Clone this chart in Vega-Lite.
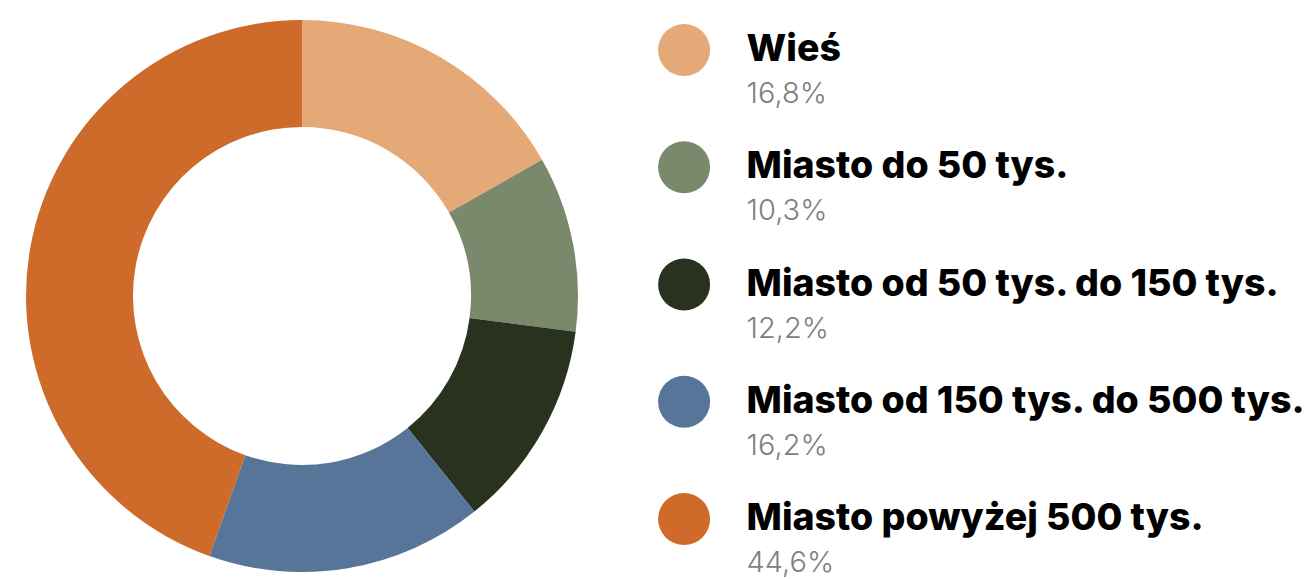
{
  "$schema": "https://vega.github.io/schema/vega-lite/v6.json",
  "padding": 0,
  "background": "white",
  "spacing": 0,
  "config": {
    "view": {"stroke": null},
    "locale": {"number": {"decimal": ",", "thousands": " ", "grouping": [3], "currency": ["", " zł"]}}
  },
  "data": {
    "values": [
      {"kategoria": "Wieś", "udzial": 0.168, "kolejnosc": 1},
      {"kategoria": "Miasto do 50 tys.", "udzial": 0.103, "kolejnosc": 2},
      {"kategoria": "Miasto od 50 tys. do 150 tys.", "udzial": 0.122, "kolejnosc": 3},
      {"kategoria": "Miasto od 150 tys. do 500 tys.", "udzial": 0.162, "kolejnosc": 4},
      {"kategoria": "Miasto powyżej 500 tys.", "udzial": 0.446, "kolejnosc": 5}
    ]
  },
  "hconcat": [
    {
      "width": 604,
      "height": 592,
      "mark": {"type": "arc", "outerRadius": 276, "innerRadius": 169},
      "encoding": {
        "theta": {"field": "udzial", "type": "quantitative", "stack": true},
        "order": {"field": "kolejnosc", "type": "quantitative"},
        "color": {
          "field": "kategoria",
          "type": "nominal",
          "legend": null,
          "scale": {
            "domain": ["Wieś", "Miasto do 50 tys.", "Miasto od 50 tys. do 150 tys.", "Miasto od 150 tys. do 500 tys.", "Miasto powyżej 500 tys."],
            "range": ["#E5A877", "#7A886C", "#28321F", "#577598", "#CE6B2A"]
          }
        }
      }
    },
    {
      "width": 704,
      "height": 592,
      "encoding": {
        "y": {
          "field": "kategoria",
          "type": "nominal",
          "sort": {"field": "kolejnosc"},
          "axis": null,
          "scale": {"type": "point", "range": [50, 519], "padding": 0}
        }
      },
      "layer": [
        {
          "mark": {"type": "point", "filled": true, "opacity": 1, "size": 2704, "shape": "circle"},
          "encoding": {
            "x": {"datum": 91, "type": "quantitative", "axis": null, "scale": {"domain": [0, 704], "range": [0, 704]}},
            "color": {
              "field": "kategoria",
              "type": "nominal",
              "legend": null,
              "scale": {
                "domain": ["Wieś", "Miasto do 50 tys.", "Miasto od 50 tys. do 150 tys.", "Miasto od 150 tys. do 500 tys.", "Miasto powyżej 500 tys."],
                "range": ["#E5A877", "#7A886C", "#28321F", "#577598", "#CE6B2A"]
              }
            }
          }
        },
        {
          "mark": {"type": "text", "align": "left", "baseline": "middle", "font": "Inter", "fontWeight": 800, "fontSize": 37.5, "color": "#000000", "dy": 0},
          "encoding": {
            "x": {"datum": 162, "type": "quantitative"},
            "text": {"field": "kategoria"}
          }
        },
        {
          "mark": {"type": "text", "align": "left", "baseline": "middle", "font": "Inter", "fontWeight": 300, "fontSize": 29, "color": "#808080", "dy": 44},
          "encoding": {
            "x": {"datum": 162, "type": "quantitative"},
            "text": {"field": "udzial", "format": ".1%"}
          }
        }
      ]
    }
  ]
}
